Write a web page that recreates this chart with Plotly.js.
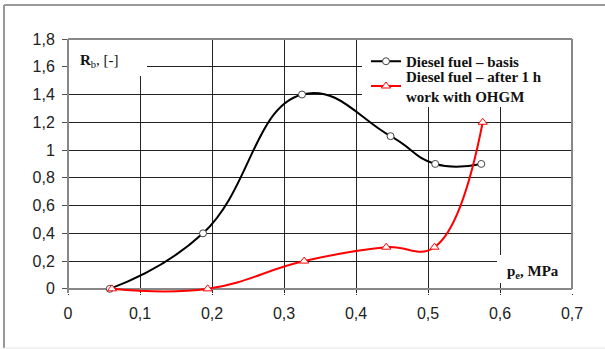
<!DOCTYPE html>
<html>
<head>
<meta charset="utf-8">
<script src="https://cdn.plot.ly/plotly-3.0.1.min.js"></script>
<style>html,body{margin:0;padding:0;background:#fff;}#chart{width:605px;height:349px;}</style>
</head>
<body>
<div id="chart"></div>
<script>
// Data
const basisX = [0.058, 0.1875, 0.325, 0.448, 0.51, 0.574];
const basisY = [0, 0.4, 1.4, 1.1, 0.9, 0.9];
const ohgmX = [0.061, 0.194, 0.328, 0.442, 0.509, 0.576];
const ohgmY = [0, 0, 0.2, 0.3, 0.3, 1.2];
const basisName = 'Diesel fuel – basis';
const ohgmName = 'Diesel fuel – after 1 h<br>work with OHGM';
const xTickVals = [0, 0.1, 0.2, 0.3, 0.4, 0.5, 0.6, 0.7];
const xTickText = ['0', '0,1', '0,2', '0,3', '0,4', '0,5', '0,6', '0,7'];
const yTickVals = [0, 0.2, 0.4, 0.6, 0.8, 1, 1.2, 1.4, 1.6, 1.8];
const yTickText = ['0', '0,2', '0,4', '0,6', '0,8', '1', '1,2', '1,4', '1,6', '1,8'];

const traces = [
  {
    x: basisX, y: basisY, name: basisName, type: 'scatter', mode: 'lines+markers',
    line: {color: '#000', width: 2, shape: 'spline', smoothing: 1.3},
    marker: {symbol: 'circle', size: 7, color: '#fff', line: {color: '#444', width: 1}},
    cliponaxis: false, legend: 'legend'
  },
  {
    x: ohgmX, y: ohgmY, name: ohgmName, type: 'scatter', mode: 'lines+markers',
    line: {color: '#ff0000', width: 2, shape: 'spline', smoothing: 1.2},
    marker: {symbol: 'triangle-up', size: 8, color: '#fff', line: {color: '#ff0000', width: 1}},
    cliponaxis: false, legend: 'legend2'
  }
];

const L = 68, T = 39, R = 33, B = 56;
const W = 605 - L - R, H = 349 - T - B;
function px(xp) { return (xp - L) / W; }
function py(yp) { return 1 - (yp - T) / H; }
const serif = 'Liberation Serif, Times New Roman, serif';

function whiteBox(x0, y0, x1, y1) {
  return {type: 'rect', xref: 'paper', yref: 'paper', layer: 'above',
    x0: px(x0), x1: px(x1), y0: py(y1), y1: py(y0), fillcolor: '#fff', line: {width: 0}};
}
function legendAt(yTop) {
  return {
    x: px(366), y: py(yTop), xanchor: 'left', yanchor: 'top',
    bgcolor: 'rgba(0,0,0,0)', borderwidth: 0,
    font: {family: serif, size: 15, color: '#111', weight: 'bold'},
    tracegroupgap: 0, itemwidth: 30, valign: 'middle'
  };
}

const layout = {
  width: 605, height: 349,
  margin: {l: L, r: R, t: T, b: B, pad: 0},
  paper_bgcolor: '#fff', plot_bgcolor: '#fff',
  showlegend: true,
  font: {family: 'Liberation Sans, Arial, sans-serif', size: 16, color: '#222'},
  xaxis: {
    range: [0, 0.7], tickvals: xTickVals, ticktext: xTickText,
    showgrid: true, gridcolor: '#222', gridwidth: 1,
    zeroline: true, zerolinecolor: '#888', zerolinewidth: 2, showline: false,
    ticks: 'outside', ticklen: 1, tickcolor: '#222', tickwidth: 1,
    ticklabelstandoff: 5
  },
  yaxis: {
    range: [-0.03, 1.8], tickvals: yTickVals, ticktext: yTickText,
    showgrid: true, gridcolor: '#222', gridwidth: 1,
    zeroline: true, zerolinecolor: '#888', zerolinewidth: 2, showline: false,
    ticks: 'outside', ticklen: 5, tickcolor: '#555', tickwidth: 1,
    ticklabelstandoff: 4
  },
  legend: legendAt(45),
  legend2: legendAt(60),
  shapes: [
    // white boxes covering gridlines behind the labels and legend
    whiteBox(69, 40, 147, 76),
    whiteBox(362, 40, 571, 107),
    whiteBox(497, 255, 571, 283),
    // plot-area top and right border
    {type: 'line', xref: 'paper', yref: 'paper', x0: 0, x1: 1, y0: 1, y1: 1, line: {color: '#888', width: 2}},
    {type: 'line', xref: 'paper', yref: 'paper', x0: 1, x1: 1, y0: 1, y1: py(289), line: {color: '#888', width: 2}},
    // outer frame
    {type: 'line', xref: 'paper', yref: 'paper', x0: px(4), x1: px(605), y0: py(5), y1: py(5), line: {color: '#999', width: 2}},
    {type: 'line', xref: 'paper', yref: 'paper', x0: px(4), x1: px(4), y0: py(5), y1: py(348), line: {color: '#999', width: 2}},
    {type: 'line', xref: 'paper', yref: 'paper', x0: px(4), x1: px(605), y0: py(348), y1: py(348), line: {color: '#e6e6e6', width: 1}}
  ],
  annotations: [
    {xref: 'paper', yref: 'paper', x: px(78), y: py(61), xanchor: 'left', yanchor: 'middle',
     text: '<b>R</b><sub>b</sub>, [-]', showarrow: false,
     font: {family: serif, size: 15, color: '#111'}},
    {xref: 'paper', yref: 'paper', x: px(505), y: py(272), xanchor: 'left', yanchor: 'middle',
     text: '<b>p<sub>e</sub>, MPa</b>', showarrow: false,
     font: {family: serif, size: 15, color: '#111'}}
  ]
};

Plotly.newPlot('chart', traces, layout, {displayModeBar: false, staticPlot: true});
</script>
</body>
</html>
